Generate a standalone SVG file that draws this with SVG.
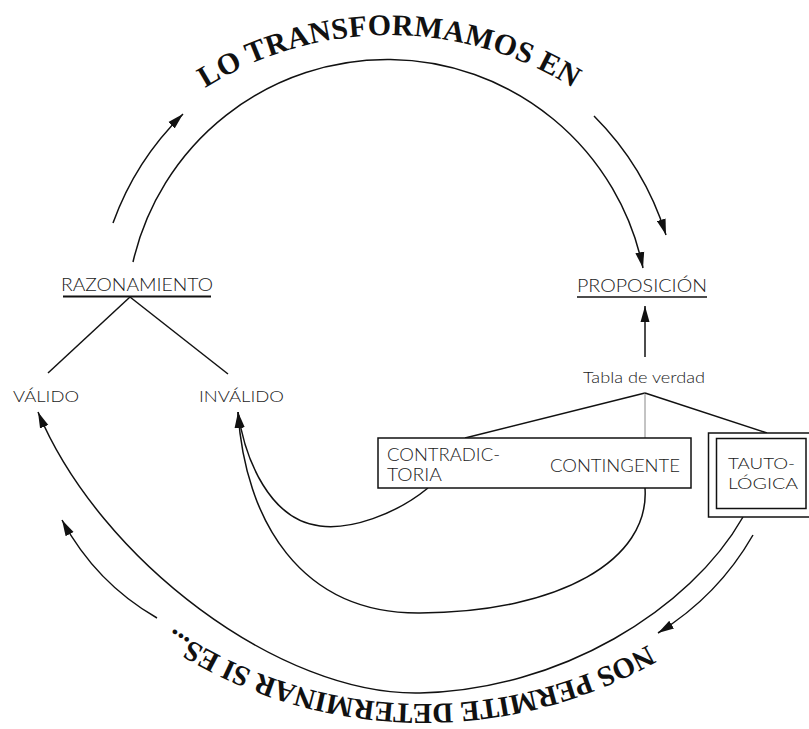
<svg xmlns="http://www.w3.org/2000/svg" width="809" height="729" viewBox="0 0 809 729">
<style>
.lbl{font-family:Lato,"Open Sans","Liberation Sans",sans-serif;font-weight:300;fill:#1a1a1a}
.big{font-family:"Liberation Serif","DejaVu Serif",serif;font-weight:bold;fill:#111}
.ln{fill:none;stroke:#111;stroke-width:1.5}
.arr{fill:none;stroke:#111;stroke-width:1.5;marker-end:url(#ah)}
.box{fill:#fff;stroke:#111;stroke-width:1.5}
</style>
<defs>
<marker id="ah" markerUnits="userSpaceOnUse" markerWidth="18" markerHeight="10" refX="16" refY="5" orient="auto">
<path d="M0,0.5 L16,5 L0,9.5 Z" fill="#111"/>
</marker>
<path id="topPath" d="M63.9,262.7 A346,346 0 0 1 714.1,262.7"/>
<path id="botPath" d="M850.6,405.3 A454,454 0 0 1 -12.4,375.1"/>
</defs>
<rect width="809" height="729" fill="#fff"/>

<g id="connectors">
<path class="arr" d="M133,262 A261,261 0 0 1 643,268"/>
<path class="arr" d="M113,223 A290,290 0 0 1 183,114"/>
<path class="arr" d="M594,116 A290,290 0 0 1 666,235"/>
<path class="ln" d="M130,297 L48,373"/>
<path class="ln" d="M130,297 L228,374"/>
<path class="arr" d="M645,357 L645,306"/>
<path class="ln" d="M645,393 L465,438"/>
<path fill="none" stroke="#888" stroke-width="1" d="M645,393 L645,438"/>
<path class="ln" d="M645,393 L767,433"/>
<path class="arr" d="M428,488 C395,515 350,530 320,526 C270,520 245,460 238,412"/>
<path class="arr" d="M645,488 C650,560 560,612 420,613 C300,614 245,520 238,412"/>
<path class="arr" d="M743,517 C690,610 560,690 420,693 C280,696 100,560 38,412"/>
<path class="arr" d="M157,618 Q96,583 62,520"/>
<path class="arr" d="M753,535 Q718,596 658,633"/>
</g>

<g id="titulo-superior">
<text class="big" font-size="30"><textPath href="#topPath" startOffset="50%" text-anchor="middle" textLength="388" lengthAdjust="spacing">LO TRANSFORMAMOS EN</textPath></text>
</g>
<g id="titulo-inferior">
<text class="big" font-size="29"><textPath href="#botPath" startOffset="50%" text-anchor="middle" textLength="500" lengthAdjust="spacing">NOS PERMITE DETERMINAR SI ES...</textPath></text>
</g>

<g id="razonamiento">
<text class="lbl" x="61" y="291" font-size="18" textLength="152" lengthAdjust="spacingAndGlyphs">RAZONAMIENTO</text>
<line x1="63" y1="296.5" x2="211" y2="296.5" stroke="#111" stroke-width="2"/>
</g>
<g id="valido">
<text class="lbl" x="13" y="402" font-size="16" textLength="66" lengthAdjust="spacingAndGlyphs">VÁLIDO</text>
</g>
<g id="invalido">
<text class="lbl" x="199" y="402" font-size="16" textLength="85" lengthAdjust="spacingAndGlyphs">INVÁLIDO</text>
</g>
<g id="proposicion">
<text class="lbl" x="577" y="292" font-size="18" textLength="130" lengthAdjust="spacingAndGlyphs">PROPOSICIÓN</text>
<line x1="577" y1="297" x2="707" y2="297" stroke="#111" stroke-width="1.5"/>
</g>
<g id="tabla">
<text class="lbl" x="583" y="383" font-size="15" textLength="122" lengthAdjust="spacingAndGlyphs">Tabla de verdad</text>
</g>
<g id="contradictoria-contingente">
<rect class="box" x="378" y="438" width="313" height="50"/>
<text class="lbl" x="387" y="461" font-size="17" textLength="113" lengthAdjust="spacingAndGlyphs">CONTRADIC-</text>
<text class="lbl" x="387" y="481" font-size="17" textLength="55" lengthAdjust="spacingAndGlyphs">TORIA</text>
<text class="lbl" x="550" y="472" font-size="17" textLength="130" lengthAdjust="spacingAndGlyphs">CONTINGENTE</text>
</g>
<g id="tautologica">
<rect class="box" x="708.5" y="433" width="110" height="84"/>
<rect class="box" x="716.5" y="438.5" width="89.5" height="70"/>
<text class="lbl" x="728" y="469" font-size="16" textLength="67" lengthAdjust="spacingAndGlyphs">TAUTO-</text>
<text class="lbl" x="728" y="489" font-size="16" textLength="70" lengthAdjust="spacingAndGlyphs">LÓGICA</text>
</g>
</svg>
